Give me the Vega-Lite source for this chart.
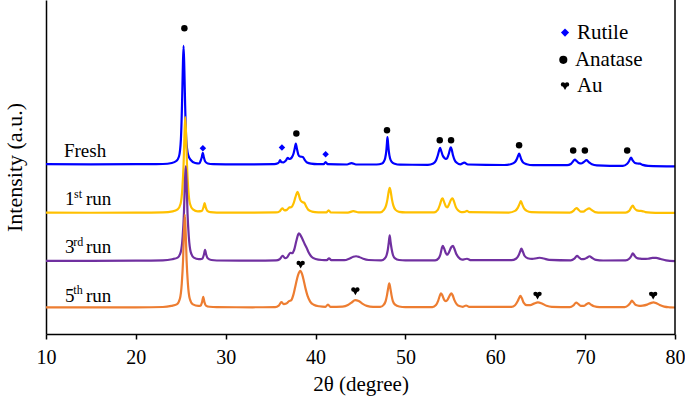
{
  "$schema": "https://vega.github.io/schema/vega-lite/v6.json",
  "width": 629,
  "height": 334,
  "autosize": {"type": "none"},
  "padding": {"left": 46, "top": 0, "right": 10, "bottom": 67},
  "background": "white",
  "config": {
    "view": {"stroke": null},
    "axis": {"grid": false, "domainColor": "black", "domainWidth": 1.5, "tickColor": "black", "tickWidth": 1.5, "tickSize": 5,
      "labelFont": "Liberation Serif", "labelFontSize": 20, "labelColor": "black",
      "titleFont": "Liberation Serif", "titleFontSize": 21, "titleFontWeight": "normal", "titleColor": "black"}
  },
  "datasets": {
    "fresh": [
      {"x":10,"y":170.3},{"x":15,"y":170.2},{"x":20,"y":170.3},{"x":23,"y":170.5},{"x":24.0,"y":171.5},{"x":24.5,"y":173.5},{"x":24.8,"y":178},{"x":25.01,"y":195},{"x":25.135,"y":229.5},{"x":25.22,"y":264},{"x":25.31,"y":289},{"x":25.4,"y":264},{"x":25.485,"y":229.5},{"x":25.61,"y":195},{"x":25.81,"y":180},{"x":26.11,"y":174.5},{"x":26.6,"y":171.5},{"x":27.05,"y":171},
      {"x":27.2,"y":173.5},{"x":27.33,"y":177},{"x":27.45,"y":181.7},{"x":27.57,"y":177},{"x":27.72,"y":173},{"x":28.0,"y":171},{"x":28.6,"y":170.3},
      {"x":30,"y":170.2},{"x":33,"y":170.2},{"x":35.4,"y":170.4},{"x":35.8,"y":171.2},{"x":35.95,"y":172.5},{"x":36.05,"y":174.3},{"x":36.2,"y":172.3},{"x":36.45,"y":172.2},
      {"x":36.7,"y":174},{"x":36.9,"y":176.7},{"x":37.1,"y":175.5},{"x":37.35,"y":177},{"x":37.55,"y":181},{"x":37.68,"y":186},{"x":37.8,"y":191},{"x":37.92,"y":186},{"x":38.08,"y":180},{"x":38.25,"y":178},{"x":38.45,"y":177.8},{"x":38.6,"y":177.3},{"x":38.8,"y":174.5},{"x":39.05,"y":172},{"x":39.5,"y":170.8},{"x":40.2,"y":170.3},
      {"x":40.9,"y":170.4},{"x":41.12,"y":172.5},{"x":41.35,"y":170.4},{"x":43.5,"y":170},{"x":44.0,"y":171.3},{"x":44.5,"y":170},{"x":46.8,"y":170},
      {"x":47.4,"y":171},{"x":47.6,"y":173},{"x":47.75,"y":176.5},{"x":47.87,"y":183.5},{"x":47.94,"y":191},{"x":48.0,"y":197.5},{"x":48.07,"y":191},{"x":48.15,"y":183.5},{"x":48.28,"y":176.5},{"x":48.45,"y":173},{"x":48.8,"y":170.8},{"x":49.4,"y":169.8},
      {"x":52.5,"y":169.7},{"x":53.1,"y":171},{"x":53.4,"y":174},{"x":53.6,"y":179},{"x":53.75,"y":184},{"x":53.85,"y":186.7},{"x":53.97,"y":184},{"x":54.15,"y":179},{"x":54.35,"y":176.5},{"x":54.5,"y":175.5},{"x":54.65,"y":176.5},{"x":54.82,"y":180.5},{"x":54.95,"y":185},{"x":55.05,"y":187.3},{"x":55.15,"y":185},{"x":55.3,"y":179},{"x":55.5,"y":174},{"x":55.75,"y":171.5},{"x":56.1,"y":170.2},{"x":56.55,"y":171.8},{"x":56.95,"y":170},
      {"x":61.0,"y":169.5},{"x":61.8,"y":170.5},{"x":62.2,"y":172.5},{"x":62.4,"y":175.5},{"x":62.55,"y":179},{"x":62.65,"y":181},{"x":62.75,"y":179},{"x":62.9,"y":175},{"x":63.1,"y":172},{"x":63.5,"y":170.3},{"x":64.2,"y":169.4},
      {"x":68.0,"y":169.3},{"x":68.4,"y":170.5},{"x":68.65,"y":173},{"x":68.85,"y":175},{"x":69.05,"y":173.5},{"x":69.3,"y":171.5},{"x":69.55,"y":171},{"x":69.85,"y":172.5},{"x":70.15,"y":174.3},{"x":70.4,"y":172.5},{"x":70.75,"y":170.3},{"x":71.3,"y":169.2},
      {"x":74.2,"y":168.7},{"x":74.65,"y":170.5},{"x":74.9,"y":173.5},{"x":75.1,"y":177},{"x":75.3,"y":174},{"x":75.55,"y":171.5},{"x":75.8,"y":171},{"x":76.1,"y":170.8},{"x":76.4,"y":169.6},{"x":77,"y":168.7},{"x":80,"y":168.2}
    ],
    "run1": [
      {"x":10,"y":121.7},{"x":15,"y":121.6},{"x":20,"y":121.7},{"x":23,"y":122},{"x":24.1,"y":123},{"x":24.65,"y":125},{"x":24.98,"y":130.7},{"x":25.18,"y":146.7},{"x":25.31,"y":169.7},{"x":25.4,"y":196.7},{"x":25.5,"y":217.5},{"x":25.6,"y":196.7},{"x":25.69,"y":169.7},{"x":25.82,"y":146.7},{"x":26.02,"y":130.7},{"x":26.35,"y":125},{"x":26.9,"y":123},
      {"x":27.35,"y":123.5},{"x":27.52,"y":127},{"x":27.65,"y":131.3},{"x":27.78,"y":127},{"x":27.95,"y":123.5},{"x":28.3,"y":122.2},{"x":29,"y":121.8},
      {"x":33,"y":121.7},{"x":35.6,"y":121.9},{"x":36.0,"y":123},{"x":36.3,"y":126},{"x":36.55,"y":124},{"x":36.8,"y":124.5},{"x":37.1,"y":127},{"x":37.3,"y":127.2},{"x":37.55,"y":131},{"x":37.75,"y":137},{"x":37.9,"y":141},{"x":38.0,"y":142.7},{"x":38.12,"y":140},{"x":38.3,"y":134.5},{"x":38.5,"y":132.5},{"x":38.75,"y":131.5},{"x":38.95,"y":128},{"x":39.2,"y":124.5},{"x":39.6,"y":122.8},{"x":40.3,"y":122},
      {"x":41.2,"y":121.9},{"x":41.45,"y":124},{"x":41.7,"y":121.9},{"x":43.6,"y":121.8},{"x":44.2,"y":123.2},{"x":44.8,"y":121.9},
      {"x":47.2,"y":122},{"x":47.6,"y":124.5},{"x":47.85,"y":129},{"x":48.0,"y":135},{"x":48.12,"y":142},{"x":48.25,"y":146.7},{"x":48.38,"y":142},{"x":48.5,"y":135},{"x":48.65,"y":129},{"x":48.9,"y":124.5},{"x":49.3,"y":122.5},{"x":50,"y":122},
      {"x":53.2,"y":122},{"x":53.6,"y":124.5},{"x":53.85,"y":130},{"x":54.05,"y":135.5},{"x":54.15,"y":136},{"x":54.3,"y":132.5},{"x":54.5,"y":128},{"x":54.65,"y":127},{"x":54.85,"y":130},{"x":55.1,"y":135},{"x":55.25,"y":136},{"x":55.4,"y":133},{"x":55.6,"y":127.5},{"x":55.85,"y":124},{"x":56.2,"y":122.3},{"x":56.6,"y":122.5},{"x":56.85,"y":123.5},{"x":57.1,"y":122.2},
      {"x":61.5,"y":121.8},{"x":62.2,"y":123.5},{"x":62.5,"y":126.5},{"x":62.7,"y":130.5},{"x":62.85,"y":133.3},{"x":63.0,"y":130},{"x":63.2,"y":126},{"x":63.5,"y":123.5},{"x":64,"y":122.2},{"x":65,"y":122},
      {"x":68.3,"y":121.8},{"x":68.7,"y":123.5},{"x":68.9,"y":125.5},{"x":69.05,"y":126.3},{"x":69.25,"y":124.8},{"x":69.5,"y":122.8},{"x":69.8,"y":122.8},{"x":70.1,"y":124.5},{"x":70.45,"y":126},{"x":70.7,"y":124.5},{"x":71.1,"y":122.3},{"x":71.8,"y":121.7},
      {"x":74.5,"y":121.8},{"x":74.9,"y":123.5},{"x":75.1,"y":126.5},{"x":75.3,"y":128.7},{"x":75.5,"y":126},{"x":75.75,"y":124},{"x":76.1,"y":123.5},{"x":76.35,"y":123.3},{"x":76.7,"y":122.3},{"x":77.3,"y":121.8},{"x":80,"y":121.4}
    ],
    "run3": [
      {"x":10,"y":73.4},{"x":15,"y":73.4},{"x":20,"y":73.5},{"x":23,"y":73.8},{"x":24.05,"y":75},{"x":24.65,"y":76.6},{"x":25.0,"y":82.4},{"x":25.21,"y":98},{"x":25.35,"y":121},{"x":25.45,"y":149.5},{"x":25.55,"y":168.5},{"x":25.65,"y":149.5},{"x":25.75,"y":121},{"x":25.89,"y":98},{"x":26.1,"y":82.4},{"x":26.45,"y":76.6},{"x":27.0,"y":75},
      {"x":27.4,"y":75.5},{"x":27.57,"y":79.5},{"x":27.7,"y":84.3},{"x":27.83,"y":79.5},{"x":28.0,"y":76},{"x":28.4,"y":74.2},{"x":29,"y":73.7},
      {"x":33,"y":73.5},{"x":35.6,"y":73.8},{"x":36.0,"y":75},{"x":36.35,"y":78.5},{"x":36.6,"y":76},{"x":36.85,"y":77},{"x":37.2,"y":81.5},{"x":37.4,"y":81},{"x":37.6,"y":84},{"x":37.85,"y":93},{"x":38.05,"y":99.5},{"x":38.15,"y":101},{"x":38.3,"y":99.5},{"x":38.55,"y":95},{"x":38.8,"y":90},{"x":39.0,"y":86.5},{"x":39.25,"y":81.5},{"x":39.55,"y":77.5},{"x":40.0,"y":75.3},{"x":40.7,"y":74.2},
      {"x":41.25,"y":74},{"x":41.5,"y":76},{"x":41.75,"y":74},{"x":43.2,"y":74},{"x":43.8,"y":75.8},{"x":44.2,"y":77.5},{"x":44.5,"y":78},{"x":44.85,"y":77.3},{"x":45.3,"y":75.5},{"x":45.9,"y":74.2},
      {"x":47.3,"y":73.8},{"x":47.7,"y":75.8},{"x":47.9,"y":79},{"x":48.05,"y":85},{"x":48.15,"y":92},{"x":48.25,"y":99},{"x":48.35,"y":92},{"x":48.47,"y":85},{"x":48.62,"y":79},{"x":48.85,"y":75.8},{"x":49.3,"y":74.2},{"x":50,"y":73.8},
      {"x":53.3,"y":73.8},{"x":53.7,"y":76},{"x":53.9,"y":80},{"x":54.05,"y":86},{"x":54.15,"y":88.3},{"x":54.3,"y":86},{"x":54.5,"y":81},{"x":54.65,"y":79.5},{"x":54.85,"y":82},{"x":55.1,"y":87},{"x":55.3,"y":88.3},{"x":55.45,"y":85.5},{"x":55.65,"y":80.5},{"x":55.9,"y":77},{"x":56.3,"y":74.5},{"x":56.85,"y":75.5},{"x":57.3,"y":74},
      {"x":61.8,"y":74},{"x":62.3,"y":75.5},{"x":62.6,"y":79},{"x":62.8,"y":83.5},{"x":62.9,"y":85.7},{"x":63.05,"y":83},{"x":63.25,"y":78.5},{"x":63.6,"y":76},{"x":64.1,"y":75.3},{"x":64.6,"y":76},{"x":64.95,"y":76.5},{"x":65.4,"y":75.7},{"x":66,"y":74.3},
      {"x":68.4,"y":73.8},{"x":68.8,"y":75.5},{"x":69.1,"y":78.3},{"x":69.35,"y":76.5},{"x":69.6,"y":75},{"x":69.95,"y":75.3},{"x":70.2,"y":76.5},{"x":70.5,"y":78},{"x":70.75,"y":76.5},{"x":71.2,"y":74.3},{"x":72,"y":73.7},
      {"x":74.5,"y":73.8},{"x":74.9,"y":75.5},{"x":75.15,"y":78.5},{"x":75.3,"y":81},{"x":75.5,"y":78.5},{"x":75.75,"y":76.3},{"x":76.1,"y":75.6},{"x":76.5,"y":75.3},{"x":77.0,"y":75.5},{"x":77.5,"y":76.3},{"x":77.9,"y":76.3},{"x":78.4,"y":75.2},{"x":79,"y":73.8},{"x":80,"y":73}
    ],
    "run5": [
      {"x":10,"y":26.8},{"x":15,"y":26.7},{"x":20,"y":26.8},{"x":23,"y":27.1},{"x":23.95,"y":28.2},{"x":24.55,"y":29.7},{"x":24.9,"y":35.4},{"x":25.11,"y":50.6},{"x":25.25,"y":73.2},{"x":25.35,"y":100.7},{"x":25.45,"y":119.7},{"x":25.55,"y":100.7},{"x":25.65,"y":73.2},{"x":25.79,"y":50.6},{"x":26.0,"y":35.4},{"x":26.35,"y":29.7},{"x":26.95,"y":28.2},
      {"x":27.2,"y":28.5},{"x":27.37,"y":32},{"x":27.5,"y":37.3},{"x":27.63,"y":32},{"x":27.8,"y":28.5},{"x":28.2,"y":27.3},{"x":29,"y":26.9},
      {"x":33,"y":26.8},{"x":35.5,"y":27},{"x":35.9,"y":28.5},{"x":36.2,"y":32},{"x":36.45,"y":30},{"x":36.75,"y":30.5},{"x":37.05,"y":33},{"x":37.3,"y":34},{"x":37.55,"y":40},{"x":37.8,"y":50},{"x":38.05,"y":59},{"x":38.3,"y":63.3},{"x":38.5,"y":60},{"x":38.7,"y":53},{"x":38.9,"y":45},{"x":39.1,"y":38.5},{"x":39.4,"y":32.5},{"x":39.8,"y":29.3},{"x":40.4,"y":27.8},
      {"x":41.1,"y":27.3},{"x":41.38,"y":29.5},{"x":41.65,"y":27.3},{"x":43.0,"y":27.5},{"x":43.6,"y":29},{"x":44.0,"y":31.5},{"x":44.4,"y":34},{"x":44.8,"y":33},{"x":45.2,"y":30.5},{"x":45.7,"y":28.2},{"x":46.4,"y":27.2},
      {"x":47.2,"y":27.2},{"x":47.6,"y":29.5},{"x":47.8,"y":33},{"x":47.95,"y":39},{"x":48.08,"y":46},{"x":48.2,"y":50.7},{"x":48.32,"y":46},{"x":48.45,"y":39},{"x":48.6,"y":33},{"x":48.85,"y":29.5},{"x":49.3,"y":27.6},{"x":50,"y":27},
      {"x":53.0,"y":27},{"x":53.4,"y":29},{"x":53.65,"y":33.5},{"x":53.85,"y":39},{"x":53.95,"y":40.7},{"x":54.1,"y":39},{"x":54.3,"y":34.5},{"x":54.5,"y":33},{"x":54.7,"y":34.5},{"x":54.95,"y":39},{"x":55.1,"y":40.7},{"x":55.25,"y":39},{"x":55.45,"y":34},{"x":55.7,"y":30},{"x":56.0,"y":28},{"x":56.4,"y":27.3},{"x":56.75,"y":28.6},{"x":57.1,"y":27.2},
      {"x":61.8,"y":27.2},{"x":62.2,"y":28.8},{"x":62.5,"y":33},{"x":62.7,"y":37},{"x":62.8,"y":38.3},{"x":62.95,"y":36},{"x":63.15,"y":31.5},{"x":63.5,"y":29},{"x":63.9,"y":29},{"x":64.3,"y":30.5},{"x":64.75,"y":31.7},{"x":65.2,"y":30.5},{"x":65.7,"y":28.3},{"x":66.3,"y":27.2},
      {"x":68.3,"y":27},{"x":68.7,"y":28.8},{"x":69.0,"y":31.5},{"x":69.25,"y":30},{"x":69.5,"y":28.2},{"x":69.85,"y":28.3},{"x":70.1,"y":29.5},{"x":70.4,"y":31},{"x":70.65,"y":29.5},{"x":71.0,"y":27.8},{"x":71.6,"y":27},
      {"x":74.4,"y":27},{"x":74.8,"y":28.8},{"x":75.05,"y":31.5},{"x":75.2,"y":33.5},{"x":75.4,"y":31.5},{"x":75.65,"y":29},{"x":76.0,"y":28.3},{"x":76.4,"y":28.5},{"x":76.9,"y":29.5},{"x":77.3,"y":31},{"x":77.6,"y":31.7},{"x":77.9,"y":31},{"x":78.3,"y":29.2},{"x":78.8,"y":27.5},{"x":79.4,"y":26.8},{"x":80,"y":26.6}
    ],
    "peaks": [
      {"phase":"Anatase","x":25.4,"y":306.7},{"phase":"Anatase","x":37.86,"y":201},{"phase":"Anatase","x":47.95,"y":204.3},{"phase":"Anatase","x":53.82,"y":194.3},{"phase":"Anatase","x":55.08,"y":194.3},{"phase":"Anatase","x":62.65,"y":189.3},{"phase":"Anatase","x":68.67,"y":184},{"phase":"Anatase","x":69.97,"y":184},{"phase":"Anatase","x":74.68,"y":184},
      {"phase":"Rutile","x":27.46,"y":186.3},{"phase":"Rutile","x":36.26,"y":187},{"phase":"Rutile","x":41.12,"y":180.3}
    ],
    "keysym": [
      {"phase":"Rutile","x":67.76,"y":302.3},{"phase":"Anatase","x":67.57,"y":275}
    ],
    "hearts": [
      {"x":38.34,"y":70},{"x":44.43,"y":43.3},{"x":64.7,"y":39},{"x":77.57,"y":39},{"x":67.76,"y":249}
    ],
    "keytext": [
      {"x":69.08,"y":302.3,"t":"Rutile"},{"x":68.86,"y":275,"t":"Anatase"},{"x":69.08,"y":249,"t":"Au"}
    ],
    "labels": [
      {"x":12.0,"y":177.3,"t":"Fresh"},
      {"x":12.11,"y":129,"t":"1"},{"x":14.45,"y":129,"t":"run"},
      {"x":12.11,"y":81,"t":"3"},{"x":14.45,"y":81,"t":"run"},
      {"x":12.11,"y":32.3,"t":"5"},{"x":14.45,"y":32.3,"t":"run"}
    ],
    "sups": [
      {"x":13.12,"y":136.5,"t":"st"},
      {"x":13.04,"y":88.5,"t":"rd"},
      {"x":13.04,"y":39.8,"t":"th"}
    ]
  },
  "layer": [
    {
      "data": {"name": "fresh"},
      "mark": {"type": "line", "color": "#0000FF", "strokeWidth": 2.2, "interpolate": "monotone"},
      "encoding": {
        "x": {"field": "x", "type": "quantitative", "scale": {"domain": [10, 80], "nice": false, "zero": false},
          "axis": {"title": "2θ (degree)", "values": [10,20,30,40,50,60,70,80], "labelFlush": false, "labelPadding": 8, "titlePadding": 6,
            "labelFont": "Liberation Serif", "titleFont": "Liberation Serif"}},
        "y": {"field": "y", "type": "quantitative", "scale": {"domain": [0, 335], "nice": false, "zero": false},
          "axis": {"title": "Intensity (a.u.)", "ticks": false, "labels": false, "titlePadding": 20, "titleFontSize": 22, "titleFont": "Liberation Serif"}}
      }
    },
    {
      "data": {"name": "run1"},
      "mark": {"type": "line", "color": "#FFC000", "strokeWidth": 2.2, "interpolate": "monotone"},
      "encoding": {"x": {"field": "x", "type": "quantitative"}, "y": {"field": "y", "type": "quantitative"}}
    },
    {
      "data": {"name": "run3"},
      "mark": {"type": "line", "color": "#7030A0", "strokeWidth": 2.2, "interpolate": "monotone"},
      "encoding": {"x": {"field": "x", "type": "quantitative"}, "y": {"field": "y", "type": "quantitative"}}
    },
    {
      "data": {"name": "run5"},
      "mark": {"type": "line", "color": "#ED7D31", "strokeWidth": 2.2, "interpolate": "monotone"},
      "encoding": {"x": {"field": "x", "type": "quantitative"}, "y": {"field": "y", "type": "quantitative"}}
    },
    {
      "data": {"name": "peaks"},
      "mark": {"type": "point", "filled": true, "opacity": 1, "size": 42},
      "encoding": {
        "x": {"field": "x", "type": "quantitative"},
        "y": {"field": "y", "type": "quantitative"},
        "color": {"field": "phase", "type": "nominal", "scale": {"domain": ["Rutile", "Anatase"], "range": ["#0000FF", "#000000"]}, "legend": null},
        "shape": {"field": "phase", "type": "nominal", "scale": {"domain": ["Rutile", "Anatase"], "range": ["diamond", "circle"]}, "legend": null}
      }
    },
    {
      "data": {"name": "keysym"},
      "mark": {"type": "point", "filled": true, "opacity": 1, "size": 66},
      "encoding": {
        "x": {"field": "x", "type": "quantitative"},
        "y": {"field": "y", "type": "quantitative"},
        "color": {"field": "phase", "type": "nominal", "legend": null},
        "shape": {"field": "phase", "type": "nominal", "legend": null}
      }
    },
    {
      "data": {"name": "hearts"},
      "mark": {"type": "point", "filled": true, "opacity": 1, "shape": "circle", "size": 19, "color": "black", "xOffset": -2, "yOffset": -1.3},
      "encoding": {"x": {"field": "x", "type": "quantitative"}, "y": {"field": "y", "type": "quantitative"}}
    },
    {
      "data": {"name": "hearts"},
      "mark": {"type": "point", "filled": true, "opacity": 1, "shape": "circle", "size": 19, "color": "black", "xOffset": 2, "yOffset": -1.3},
      "encoding": {"x": {"field": "x", "type": "quantitative"}, "y": {"field": "y", "type": "quantitative"}}
    },
    {
      "data": {"name": "hearts"},
      "mark": {"type": "point", "filled": true, "opacity": 1, "shape": "triangle-down", "size": 58, "color": "black", "yOffset": 1},
      "encoding": {"x": {"field": "x", "type": "quantitative"}, "y": {"field": "y", "type": "quantitative"}}
    },
    {
      "data": {"name": "keytext"},
      "mark": {"type": "text", "font": "Liberation Serif", "fontSize": 21, "align": "left", "baseline": "middle", "color": "black"},
      "encoding": {"x": {"field": "x", "type": "quantitative"}, "y": {"field": "y", "type": "quantitative"}, "text": {"field": "t"}}
    },
    {
      "data": {"name": "labels"},
      "mark": {"type": "text", "font": "Liberation Serif", "fontSize": 19, "align": "left", "baseline": "alphabetic", "color": "black"},
      "encoding": {"x": {"field": "x", "type": "quantitative"}, "y": {"field": "y", "type": "quantitative"}, "text": {"field": "t"}}
    },
    {
      "data": {"name": "sups"},
      "mark": {"type": "text", "font": "Liberation Serif", "fontSize": 12, "align": "left", "baseline": "alphabetic", "color": "black"},
      "encoding": {"x": {"field": "x", "type": "quantitative"}, "y": {"field": "y", "type": "quantitative"}, "text": {"field": "t"}}
    },
    {
      "data": {"values": [{}]},
      "mark": {"type": "rule", "color": "black", "strokeWidth": 1.5},
      "encoding": {"x": {"datum": 80}}
    }
  ]
}
